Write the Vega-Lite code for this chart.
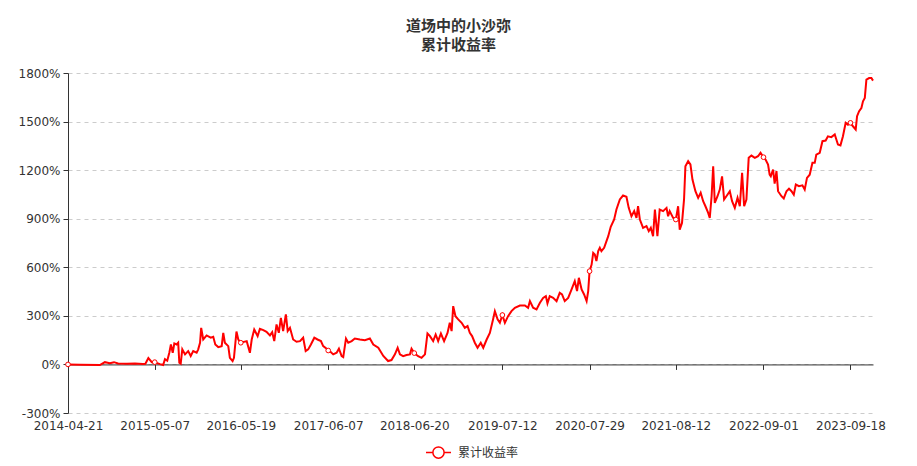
{
  "$schema": "https://vega.github.io/schema/vega-lite/v6.json",
  "width": 805,
  "height": 340,
  "autosize": {"type": "none"},
  "padding": {"left": 68, "top": 73, "right": 44, "bottom": 53},
  "background": "white",
  "title": {
    "text": ["道场中的小沙弥", "累计收益率"],
    "anchor": "middle",
    "dx": -12,
    "offset": 14,
    "fontSize": 15,
    "font": "Noto Sans CJK SC",
    "fontWeight": "bold",
    "color": "#333333",
    "lineHeight": 19
  },
  "config": {
    "view": {"stroke": null},
    "axis": {
      "labelFont": "DejaVu Sans",
      "labelFontSize": 12,
      "labelColor": "#333333",
      "domainColor": "#333333",
      "tickColor": "#333333",
      "gridColor": "#cccccc",
      "gridDash": [4, 4]
    }
  },
  "data": {
    "values": [
      {"date": "2014-04-21", "value": 0},
      {"date": "2014-06-13", "value": -2},
      {"date": "2014-09-08", "value": -4},
      {"date": "2014-09-30", "value": 14},
      {"date": "2014-10-22", "value": 8},
      {"date": "2014-11-09", "value": 14},
      {"date": "2014-11-27", "value": 6},
      {"date": "2015-01-05", "value": 4},
      {"date": "2015-02-09", "value": 5},
      {"date": "2015-03-16", "value": 3},
      {"date": "2015-03-27", "value": 4},
      {"date": "2015-04-09", "value": 39},
      {"date": "2015-04-24", "value": 14},
      {"date": "2015-05-07", "value": 14},
      {"date": "2015-05-30", "value": 2},
      {"date": "2015-06-13", "value": -4},
      {"date": "2015-06-21", "value": 33},
      {"date": "2015-07-01", "value": 23},
      {"date": "2015-07-10", "value": 72},
      {"date": "2015-07-17", "value": 123},
      {"date": "2015-07-25", "value": 72},
      {"date": "2015-08-01", "value": 130},
      {"date": "2015-08-11", "value": 123},
      {"date": "2015-08-18", "value": 134},
      {"date": "2015-08-23", "value": 10},
      {"date": "2015-08-29", "value": 4},
      {"date": "2015-09-05", "value": 93},
      {"date": "2015-09-17", "value": 62},
      {"date": "2015-10-01", "value": 82},
      {"date": "2015-10-12", "value": 52},
      {"date": "2015-10-23", "value": 82},
      {"date": "2015-11-07", "value": 72},
      {"date": "2015-11-14", "value": 93},
      {"date": "2015-11-22", "value": 134},
      {"date": "2015-11-27", "value": 226},
      {"date": "2015-12-06", "value": 154},
      {"date": "2015-12-21", "value": 179},
      {"date": "2016-01-08", "value": 165},
      {"date": "2016-01-19", "value": 171},
      {"date": "2016-01-28", "value": 123},
      {"date": "2016-02-10", "value": 107},
      {"date": "2016-02-25", "value": 113},
      {"date": "2016-03-03", "value": 195},
      {"date": "2016-03-10", "value": 134},
      {"date": "2016-03-25", "value": 113},
      {"date": "2016-04-01", "value": 41},
      {"date": "2016-04-13", "value": 21},
      {"date": "2016-04-19", "value": 41},
      {"date": "2016-04-30", "value": 203},
      {"date": "2016-05-08", "value": 154},
      {"date": "2016-05-19", "value": 134},
      {"date": "2016-06-14", "value": 144},
      {"date": "2016-06-28", "value": 72},
      {"date": "2016-07-06", "value": 154},
      {"date": "2016-07-17", "value": 216},
      {"date": "2016-08-01", "value": 175},
      {"date": "2016-08-11", "value": 220},
      {"date": "2016-08-26", "value": 212},
      {"date": "2016-09-09", "value": 201},
      {"date": "2016-09-24", "value": 179},
      {"date": "2016-10-04", "value": 199},
      {"date": "2016-10-13", "value": 144},
      {"date": "2016-10-23", "value": 247},
      {"date": "2016-11-02", "value": 195},
      {"date": "2016-11-11", "value": 288},
      {"date": "2016-11-21", "value": 206},
      {"date": "2016-12-03", "value": 309},
      {"date": "2016-12-11", "value": 206},
      {"date": "2016-12-21", "value": 226},
      {"date": "2017-01-04", "value": 154},
      {"date": "2017-01-19", "value": 140},
      {"date": "2017-02-03", "value": 144},
      {"date": "2017-02-17", "value": 165},
      {"date": "2017-02-28", "value": 82},
      {"date": "2017-03-11", "value": 93},
      {"date": "2017-03-23", "value": 123},
      {"date": "2017-04-07", "value": 165},
      {"date": "2017-04-21", "value": 154},
      {"date": "2017-05-06", "value": 144},
      {"date": "2017-05-16", "value": 113},
      {"date": "2017-05-31", "value": 97},
      {"date": "2017-06-07", "value": 86},
      {"date": "2017-06-16", "value": 80},
      {"date": "2017-06-29", "value": 62},
      {"date": "2017-07-14", "value": 72},
      {"date": "2017-07-24", "value": 97},
      {"date": "2017-08-05", "value": 51},
      {"date": "2017-08-12", "value": 45},
      {"date": "2017-08-24", "value": 160},
      {"date": "2017-09-03", "value": 134},
      {"date": "2017-09-18", "value": 144},
      {"date": "2017-10-02", "value": 160},
      {"date": "2017-10-24", "value": 154},
      {"date": "2017-11-15", "value": 150},
      {"date": "2017-12-07", "value": 160},
      {"date": "2017-12-22", "value": 123},
      {"date": "2018-01-13", "value": 103},
      {"date": "2018-02-04", "value": 52},
      {"date": "2018-02-25", "value": 21},
      {"date": "2018-03-12", "value": 27},
      {"date": "2018-03-27", "value": 62},
      {"date": "2018-04-08", "value": 103},
      {"date": "2018-04-18", "value": 62},
      {"date": "2018-05-02", "value": 51},
      {"date": "2018-05-17", "value": 58},
      {"date": "2018-06-01", "value": 62},
      {"date": "2018-06-08", "value": 97},
      {"date": "2018-06-20", "value": 70},
      {"date": "2018-07-07", "value": 51},
      {"date": "2018-07-22", "value": 41},
      {"date": "2018-08-06", "value": 62},
      {"date": "2018-08-17", "value": 191},
      {"date": "2018-08-28", "value": 175},
      {"date": "2018-09-11", "value": 144},
      {"date": "2018-09-22", "value": 185},
      {"date": "2018-10-03", "value": 144},
      {"date": "2018-10-15", "value": 191},
      {"date": "2018-10-29", "value": 144},
      {"date": "2018-11-13", "value": 195},
      {"date": "2018-11-23", "value": 257},
      {"date": "2018-12-01", "value": 206},
      {"date": "2018-12-08", "value": 360},
      {"date": "2018-12-18", "value": 298},
      {"date": "2018-12-30", "value": 278},
      {"date": "2019-01-14", "value": 257},
      {"date": "2019-01-28", "value": 226},
      {"date": "2019-02-09", "value": 237},
      {"date": "2019-02-19", "value": 195},
      {"date": "2019-03-01", "value": 175},
      {"date": "2019-03-13", "value": 134},
      {"date": "2019-03-25", "value": 103},
      {"date": "2019-04-08", "value": 134},
      {"date": "2019-04-19", "value": 103},
      {"date": "2019-05-04", "value": 154},
      {"date": "2019-05-18", "value": 195},
      {"date": "2019-06-01", "value": 278},
      {"date": "2019-06-09", "value": 329},
      {"date": "2019-06-21", "value": 278},
      {"date": "2019-07-01", "value": 257},
      {"date": "2019-07-12", "value": 305},
      {"date": "2019-07-23", "value": 257},
      {"date": "2019-08-06", "value": 298},
      {"date": "2019-08-21", "value": 329},
      {"date": "2019-09-05", "value": 350},
      {"date": "2019-09-27", "value": 364},
      {"date": "2019-10-19", "value": 364},
      {"date": "2019-11-02", "value": 350},
      {"date": "2019-11-10", "value": 391},
      {"date": "2019-11-24", "value": 350},
      {"date": "2019-12-09", "value": 340},
      {"date": "2019-12-24", "value": 381},
      {"date": "2020-01-07", "value": 411},
      {"date": "2020-01-19", "value": 422},
      {"date": "2020-01-26", "value": 377},
      {"date": "2020-02-05", "value": 422},
      {"date": "2020-02-20", "value": 411},
      {"date": "2020-03-06", "value": 391},
      {"date": "2020-03-20", "value": 442},
      {"date": "2020-03-30", "value": 432},
      {"date": "2020-04-11", "value": 391},
      {"date": "2020-04-26", "value": 411},
      {"date": "2020-05-11", "value": 463},
      {"date": "2020-05-25", "value": 514},
      {"date": "2020-06-04", "value": 453},
      {"date": "2020-06-12", "value": 535},
      {"date": "2020-06-24", "value": 463},
      {"date": "2020-07-05", "value": 432},
      {"date": "2020-07-16", "value": 391},
      {"date": "2020-07-23", "value": 453},
      {"date": "2020-07-29", "value": 576},
      {"date": "2020-08-07", "value": 617},
      {"date": "2020-08-14", "value": 689},
      {"date": "2020-08-21", "value": 679},
      {"date": "2020-08-28", "value": 638},
      {"date": "2020-09-05", "value": 700},
      {"date": "2020-09-12", "value": 720},
      {"date": "2020-09-19", "value": 700},
      {"date": "2020-10-01", "value": 720},
      {"date": "2020-10-19", "value": 792},
      {"date": "2020-10-30", "value": 850},
      {"date": "2020-11-14", "value": 895},
      {"date": "2020-11-24", "value": 957},
      {"date": "2020-12-09", "value": 1019},
      {"date": "2020-12-23", "value": 1043},
      {"date": "2021-01-07", "value": 1035},
      {"date": "2021-01-17", "value": 967},
      {"date": "2021-01-29", "value": 915},
      {"date": "2021-02-10", "value": 947},
      {"date": "2021-02-20", "value": 905},
      {"date": "2021-02-27", "value": 977},
      {"date": "2021-03-07", "value": 895},
      {"date": "2021-03-21", "value": 844},
      {"date": "2021-04-05", "value": 854},
      {"date": "2021-04-15", "value": 823},
      {"date": "2021-04-24", "value": 844},
      {"date": "2021-05-04", "value": 792},
      {"date": "2021-05-12", "value": 957},
      {"date": "2021-05-23", "value": 792},
      {"date": "2021-06-02", "value": 957},
      {"date": "2021-06-17", "value": 947},
      {"date": "2021-07-02", "value": 967},
      {"date": "2021-07-09", "value": 915},
      {"date": "2021-07-16", "value": 947},
      {"date": "2021-07-31", "value": 905},
      {"date": "2021-08-12", "value": 895},
      {"date": "2021-08-22", "value": 977},
      {"date": "2021-08-29", "value": 833},
      {"date": "2021-09-08", "value": 874},
      {"date": "2021-09-17", "value": 1019},
      {"date": "2021-09-23", "value": 1224},
      {"date": "2021-10-05", "value": 1255},
      {"date": "2021-10-15", "value": 1235},
      {"date": "2021-10-24", "value": 1142},
      {"date": "2021-11-06", "value": 1070},
      {"date": "2021-11-18", "value": 1029},
      {"date": "2021-11-29", "value": 1060},
      {"date": "2021-12-10", "value": 1008},
      {"date": "2021-12-20", "value": 977},
      {"date": "2022-01-01", "value": 936},
      {"date": "2022-01-08", "value": 905},
      {"date": "2022-01-16", "value": 1039},
      {"date": "2022-01-23", "value": 1224},
      {"date": "2022-01-30", "value": 998},
      {"date": "2022-02-11", "value": 1039},
      {"date": "2022-02-21", "value": 1080},
      {"date": "2022-03-03", "value": 1162},
      {"date": "2022-03-12", "value": 1019},
      {"date": "2022-03-22", "value": 1039},
      {"date": "2022-04-06", "value": 1070},
      {"date": "2022-04-16", "value": 1008},
      {"date": "2022-04-28", "value": 967},
      {"date": "2022-05-10", "value": 1029},
      {"date": "2022-05-20", "value": 977},
      {"date": "2022-05-30", "value": 1183},
      {"date": "2022-06-08", "value": 977},
      {"date": "2022-06-18", "value": 1019},
      {"date": "2022-06-28", "value": 1276},
      {"date": "2022-07-10", "value": 1290},
      {"date": "2022-07-25", "value": 1276},
      {"date": "2022-08-08", "value": 1286},
      {"date": "2022-08-19", "value": 1307},
      {"date": "2022-09-01", "value": 1280},
      {"date": "2022-09-10", "value": 1265},
      {"date": "2022-09-21", "value": 1235},
      {"date": "2022-09-28", "value": 1172},
      {"date": "2022-10-03", "value": 1162},
      {"date": "2022-10-13", "value": 1204},
      {"date": "2022-10-20", "value": 1117},
      {"date": "2022-10-28", "value": 1194},
      {"date": "2022-11-04", "value": 1070},
      {"date": "2022-11-19", "value": 1039},
      {"date": "2022-11-29", "value": 1025},
      {"date": "2022-12-11", "value": 1070},
      {"date": "2022-12-22", "value": 1086},
      {"date": "2023-01-02", "value": 1070},
      {"date": "2023-01-12", "value": 1049},
      {"date": "2023-01-21", "value": 1111},
      {"date": "2023-02-04", "value": 1101},
      {"date": "2023-02-19", "value": 1106},
      {"date": "2023-03-01", "value": 1080},
      {"date": "2023-03-11", "value": 1152},
      {"date": "2023-03-23", "value": 1172},
      {"date": "2023-04-04", "value": 1245},
      {"date": "2023-04-14", "value": 1245},
      {"date": "2023-04-21", "value": 1296},
      {"date": "2023-05-06", "value": 1307},
      {"date": "2023-05-18", "value": 1379},
      {"date": "2023-06-01", "value": 1383},
      {"date": "2023-06-11", "value": 1409},
      {"date": "2023-06-26", "value": 1404},
      {"date": "2023-07-11", "value": 1420},
      {"date": "2023-07-18", "value": 1389},
      {"date": "2023-07-25", "value": 1358},
      {"date": "2023-08-05", "value": 1353},
      {"date": "2023-08-16", "value": 1409},
      {"date": "2023-08-28", "value": 1492},
      {"date": "2023-09-07", "value": 1481},
      {"date": "2023-09-18", "value": 1492},
      {"date": "2023-09-29", "value": 1471},
      {"date": "2023-10-11", "value": 1451},
      {"date": "2023-10-17", "value": 1533},
      {"date": "2023-10-26", "value": 1564},
      {"date": "2023-11-05", "value": 1584},
      {"date": "2023-11-12", "value": 1625},
      {"date": "2023-11-20", "value": 1646},
      {"date": "2023-11-27", "value": 1759},
      {"date": "2023-12-09", "value": 1769},
      {"date": "2023-12-19", "value": 1769},
      {"date": "2023-12-26", "value": 1753}
    ]
  },
  "layer": [
    {
      "mark": {"type": "line", "strokeWidth": 2, "interpolate": "linear"},
      "encoding": {
        "x": {
          "field": "date",
          "type": "temporal",
          "scale": {"domain": [{"year": 2014, "month": 4, "date": 21}, {"year": 2023, "month": 12, "date": 26}], "nice": false},
          "axis": {
            "orient": "bottom",
            "title": null,
            "values": [
              {"year": 2014, "month": 4, "date": 21},
              {"year": 2015, "month": 5, "date": 7},
              {"year": 2016, "month": 5, "date": 19},
              {"year": 2017, "month": 6, "date": 7},
              {"year": 2018, "month": 6, "date": 20},
              {"year": 2019, "month": 7, "date": 12},
              {"year": 2020, "month": 7, "date": 29},
              {"year": 2021, "month": 8, "date": 12},
              {"year": 2022, "month": 9, "date": 1},
              {"year": 2023, "month": 9, "date": 18}
            ],
            "format": "%Y-%m-%d",
            "labelAngle": 0,
            "labelPadding": 7,
            "labelOverlap": false,
            "labelFlush": false,
            "domain": false,
            "ticks": false,
            "grid": false
          }
        },
        "y": {
          "field": "value",
          "type": "quantitative",
          "scale": {"domain": [-300, 1800], "nice": false, "zero": false},
          "axis": {
            "title": null,
            "values": [-300, 0, 300, 600, 900, 1200, 1500, 1800],
            "labelExpr": "datum.value + '%'",
            "grid": true,
            "tickSize": 5,
            "labelPadding": 3
          }
        },
        "color": {
          "datum": "累计收益率",
          "type": "nominal",
          "scale": {"range": ["#ff0000"]},
          "legend": {
            "title": null,
            "orient": "none",
            "legendX": 357,
            "legendY": 366,
            "symbolType": "M-1,0L-0.45,0M0.45,0L1,0M-0.45,0A0.45,0.45 0 1 1 0.45,0A0.45,0.45 0 1 1 -0.45,0",
            "symbolSize": 625,
            "symbolStrokeWidth": 1.5,
            "labelFont": "Noto Sans CJK SC",
            "labelFontSize": 12,
            "labelColor": "#333333",
            "labelOffset": 6,
            "encode": {
              "symbols": {
                "update": {
                  "fill": {"value": "#ffffff"},
                  "stroke": {"value": "#ff0000"},
                  "strokeWidth": {"value": 1.5},
                  "opacity": {"value": 1}
                }
              }
            }
          }
        }
      }
    },
    {
      "transform": [
        {
          "filter": {
            "timeUnit": "yearmonthdate",
            "field": "date",
            "oneOf": [
              {"year": 2014, "month": 4, "date": 21},
              {"year": 2015, "month": 5, "date": 7},
              {"year": 2016, "month": 5, "date": 19},
              {"year": 2017, "month": 6, "date": 7},
              {"year": 2018, "month": 6, "date": 20},
              {"year": 2019, "month": 7, "date": 12},
              {"year": 2020, "month": 7, "date": 29},
              {"year": 2021, "month": 8, "date": 12},
              {"year": 2022, "month": 9, "date": 1},
              {"year": 2023, "month": 9, "date": 18}
            ]
          }
        }
      ],
      "mark": {"type": "point", "filled": true, "fill": "#ffffff", "stroke": "#ff0000", "strokeWidth": 1, "size": 22, "opacity": 1},
      "encoding": {
        "x": {
          "field": "date",
          "type": "temporal",
          "axis": {
            "orient": "bottom",
            "title": null,
            "offset": -48.57,
            "values": [
              {"year": 2014, "month": 4, "date": 21},
              {"year": 2015, "month": 5, "date": 7},
              {"year": 2016, "month": 5, "date": 19},
              {"year": 2017, "month": 6, "date": 7},
              {"year": 2018, "month": 6, "date": 20},
              {"year": 2019, "month": 7, "date": 12},
              {"year": 2020, "month": 7, "date": 29},
              {"year": 2021, "month": 8, "date": 12},
              {"year": 2022, "month": 9, "date": 1},
              {"year": 2023, "month": 9, "date": 18}
            ],
            "labels": false,
            "domain": true,
            "ticks": true,
            "tickSize": 5,
            "grid": false
          }
        },
        "y": {"field": "value", "type": "quantitative"}
      }
    }
  ],
  "resolve": {"axis": {"x": "independent"}}
}
